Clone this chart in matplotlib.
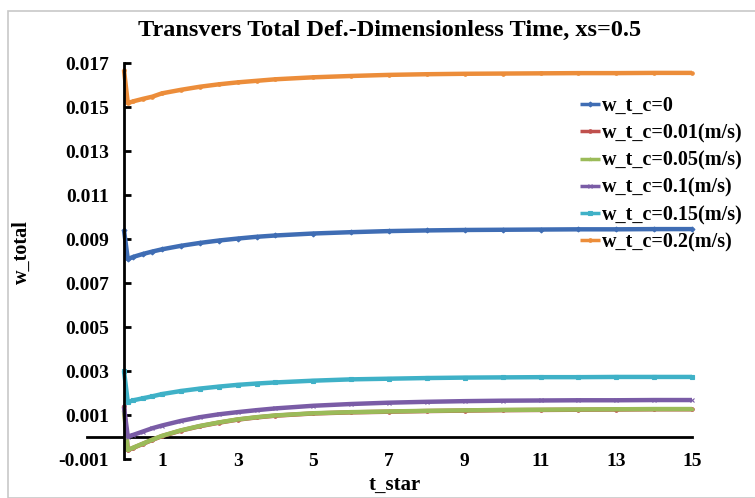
import matplotlib
matplotlib.use("Agg")
import matplotlib.pyplot as plt
from matplotlib.lines import Line2D
from matplotlib.patches import Rectangle

t_star = [0, 0.1, 0.25, 0.5, 0.75, 1, 1.5, 2, 2.5, 3, 3.5, 4, 5, 6, 7, 8, 9, 10, 11, 12, 13, 14, 15]

w_c0 = [0.00940, 0.00809, 0.00819, 0.00832, 0.00843, 0.00853, 0.00869, 0.00882, 0.00893, 0.00902, 0.00910,
        0.00916, 0.00925, 0.00931, 0.00936, 0.00939, 0.00941, 0.00942, 0.00943, 0.00944, 0.00944, 0.00945, 0.00945]
w_c001 = [0.00140, -0.00060, -0.00049, -0.00031, -0.00013, 0.00004, 0.00029, 0.00049, 0.00065, 0.00079, 0.00089,
          0.00097, 0.00107, 0.00112, 0.00115, 0.00118, 0.00120, 0.00122, 0.00123, 0.00124, 0.00125, 0.00126, 0.00126]
w_c005 = [0.00120, -0.00059, -0.00048, -0.00030, -0.00012, 0.00005, 0.00030, 0.00050, 0.00066, 0.00080, 0.00090,
          0.00098, 0.00108, 0.00113, 0.00116, 0.00119, 0.00121, 0.00123, 0.00124, 0.00125, 0.00126, 0.00127, 0.00127]
w_c01 = [0.00136, 0.00002, 0.00010, 0.00025, 0.00040, 0.00052, 0.00073, 0.00090, 0.00103, 0.00113, 0.00122,
         0.00130, 0.00142, 0.00150, 0.00156, 0.00160, 0.00163, 0.00165, 0.00166, 0.00167, 0.00167, 0.00168, 0.00168]
w_c015 = [0.00300, 0.00159, 0.00167, 0.00176, 0.00185, 0.00195, 0.00209, 0.00220, 0.00229, 0.00237, 0.00243,
          0.00248, 0.00256, 0.00262, 0.00265, 0.00268, 0.00270, 0.00271, 0.00272, 0.00272, 0.00273, 0.00273, 0.00273]
w_c02 = [0.01668, 0.01518, 0.01526, 0.01537, 0.01547, 0.01562, 0.01578, 0.01592, 0.01603, 0.01612, 0.01619,
         0.01626, 0.01635, 0.01641, 0.01646, 0.01649, 0.01651, 0.01652, 0.01653, 0.01654, 0.01654, 0.01655, 0.01655]

labels = ["w_t_c=0", "w_t_c=0.01(m/s)", "w_t_c=0.05(m/s)", "w_t_c=0.1(m/s)", "w_t_c=0.15(m/s)", "w_t_c=0.2(m/s)"]
series = [w_c0, w_c001, w_c005, w_c01, w_c015, w_c02]
colors = ["#3f6db4", "#c0504d", "#9bbb59", "#7a5ca6", "#3fb1c7", "#ec8d3a"]
markers = ["D", "o", "*", "x", "s", "o"]

xticks = [1, 3, 5, 7, 9, 11, 13, 15]
yticks = [-0.001, 0.001, 0.003, 0.005, 0.007, 0.009, 0.011, 0.013, 0.015, 0.017]

FONT = "Liberation Serif"
W, H = 755, 498
fig = plt.figure(figsize=(W / 100, H / 100), dpi=100)
fig.patches.append(Rectangle((8 / W, 0), 1, 1 - 11 / H, transform=fig.transFigure,
                             fill=False, edgecolor="#c8c8c8", linewidth=1.2))

left, right, top, bottom = 124, 692, 63, 459
ax = fig.add_axes([left / W, 1 - bottom / H, (right - left) / W, (bottom - top) / H])
ax.set_xlim(0, 15)
ax.set_ylim(-0.001, 0.017)

for vals, lab, col, mk in zip(series, labels, colors, markers):
    ax.plot(t_star, vals, color=col, lw=3.2, marker=mk, ms=2.5, mew=0.8, label=lab,
            solid_capstyle="butt", clip_on=False)

for s in ["top", "right", "bottom"]:
    ax.spines[s].set_visible(False)
ax.spines["left"].set_linewidth(2.0)
ax.spines["left"].set_color("black")

# horizontal axis line at y = 0
ax.add_line(Line2D([-0.98, 15], [0, 0], color="black", lw=2.0, clip_on=False, zorder=1))

ax.set_yticks(yticks)
ax.set_yticklabels([f"{v:.3f}" for v in yticks])
ax.tick_params(axis="y", direction="in", length=5, width=2, pad=11, labelsize=14)
ax.set_xticks(xticks)
ax.set_xticklabels([str(v) for v in xticks])
ax.tick_params(axis="x", length=0, pad=1.5, labelsize=14)
for lab in ax.get_xticklabels():
    lab.set_verticalalignment("center")
for lab in ax.get_xticklabels() + ax.get_yticklabels():
    lab.set_fontfamily(FONT)
    lab.set_fontweight("bold")

fig.text(390 / W, 1 - 30 / H, "Transvers Total Def.-Dimensionless Time, xs=0.5", ha="center", va="center",
         fontsize=17.5, fontweight="bold", family=FONT)
fig.text(395 / W, 1 - 485 / H, "t_star", ha="center", va="center", fontsize=15, fontweight="bold", family=FONT)
fig.text(22 / W, 1 - 252 / H, "w_total", ha="center", va="center", rotation=90, fontsize=14.5,
         fontweight="bold", family=FONT)

leg = ax.legend(loc="upper left", bbox_to_anchor=(570 / W, 1 - 86 / H), bbox_transform=fig.transFigure,
                frameon=False, handlelength=1.0, handletextpad=0.1, labelspacing=0.36, borderpad=0,
                prop={"family": FONT, "weight": "bold", "size": 14.5})
for ln in leg.get_lines():
    ln.set_linewidth(2.5)

fig.savefig("out.png", dpi=100)
